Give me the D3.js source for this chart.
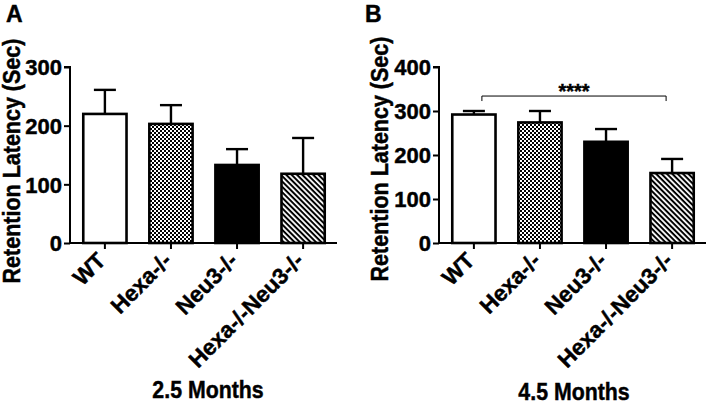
<!DOCTYPE html>
<html>
<head>
<meta charset="utf-8">
<script src="https://cdn.jsdelivr.net/npm/d3@7"></script>
<style>
  html, body { margin: 0; padding: 0; background: #fff; }
  svg { display: block; }
  text { font-family: "Liberation Sans", Arial, Helvetica, sans-serif; font-weight: bold; fill: #000; stroke: #000; stroke-width: 0.45px; }
</style>
</head>
<body>
<svg id="chart" width="709" height="406"></svg>
<script>
// ---- data ----
const categories = ["WT", "Hexa-/-", "Neu3-/-", "Hexa-/-Neu3-/-"];
const fills = ["white", "checker", "black", "hatch"];
const meanA = [220, 203, 133, 118];
const errA = [41, 32, 27, 61];
const meanB = [292, 274, 230, 159];
const errB = [8, 26, 29, 32];
const ticksA = [0, 100, 200, 300];
const ticksB = [0, 100, 200, 300, 400];
const titleA = "2.5 Months";
const titleB = "4.5 Months";
const yTitle = "Retention Latency (Sec)";
const sigB = { from: "WT", to: "Hexa-/-Neu3-/-", value: 334, label: "****" };

const svg = d3.select("#chart");
const defs = svg.append("defs");

// checker pattern
const chk = defs.append("pattern").attr("id", "checker")
  .attr("patternUnits", "userSpaceOnUse").attr("width", 4).attr("height", 4);
chk.append("rect").attr("width", 4).attr("height", 4).attr("fill", "#000");
chk.append("rect").attr("x", 0).attr("y", 0).attr("width", 2).attr("height", 2).attr("fill", "#fff");
chk.append("rect").attr("x", 2).attr("y", 2).attr("width", 2).attr("height", 2).attr("fill", "#fff");

// hatch pattern (\\ direction)
const hat = defs.append("pattern").attr("id", "hatch")
  .attr("patternUnits", "userSpaceOnUse").attr("width", 8).attr("height", 3.8)
  .attr("patternTransform", "rotate(45)");
hat.append("rect").attr("width", 8).attr("height", 3.8).attr("fill", "#fff");
hat.append("rect").attr("width", 8).attr("height", 2).attr("fill", "#000");

function fillFor(f) {
  if (f === "white") return "#fff";
  if (f === "black") return "#000";
  return "url(#" + f + ")";
}

function panel(opts) {
  const { x0, x1, yTop, yBot, ticks, means, errs, title, titleX, titleY, letter, letterX, yTitleX, yTitleY } = opts;
  const g = svg.append("g");
  const x = d3.scaleBand().domain(categories).range([x0 + 1, x1])
    .paddingInner(0.306).paddingOuter(0.166);
  const y = d3.scaleLinear().domain([0, d3.max(ticks)]).range([yBot, yTop]);

  const data = categories.map((c, i) => ({ c, m: means[i], e: errs[i], f: fills[i] }));
  const eg = g.append("g").attr("stroke", "#000").attr("stroke-width", 2.4).attr("fill", "none");
  data.forEach(d => {
    const cx = x(d.c) + x.bandwidth() / 2;
    eg.append("line").attr("x1", cx).attr("x2", cx).attr("y1", y(d.m)).attr("y2", y(d.m + d.e));
    eg.append("line").attr("x1", cx - 11).attr("x2", cx + 11).attr("y1", y(d.m + d.e)).attr("y2", y(d.m + d.e));
  });
  g.append("g").selectAll("rect").data(data).join("rect")
    .attr("x", d => x(d.c) + 1.3)
    .attr("y", d => y(d.m))
    .attr("width", x.bandwidth() - 2.6)
    .attr("height", d => y(0) - y(d.m))
    .attr("fill", d => fillFor(d.f))
    .attr("stroke", "#000").attr("stroke-width", 2.6);

  // y axis
  const ya = g.append("g").attr("transform", `translate(${x0},0)`)
    .call(d3.axisLeft(y).tickValues(ticks).tickSize(6).tickPadding(2).tickFormat(d3.format("d")));
  ya.select(".domain").attr("stroke-width", 2).attr("d", `M-6,${yTop}H0V${yBot}`);
  ya.selectAll(".tick line").attr("stroke-width", 2);
  ya.selectAll(".tick text").attr("font-size", 22).attr("font-family", "Liberation Sans, Arial, sans-serif")
    .attr("font-weight", "bold").attr("fill", "#000").attr("dy", "0.36em");

  // x axis
  const xa = g.append("g").attr("transform", `translate(0,${yBot})`)
    .call(d3.axisBottom(x).tickSize(6).tickFormat(""));
  xa.select(".domain").attr("stroke-width", 2).attr("d", `M${x0},0H${x1}`);
  xa.selectAll(".tick line").attr("stroke-width", 2);
  xa.selectAll(".tick text").remove();

  // category labels
  g.append("g").selectAll("text").data(categories).join("text")
    .attr("transform", c => `translate(${x(c) + x.bandwidth() / 2 + 2},${yBot + 19}) rotate(-45)`)
    .attr("text-anchor", "end")
    .attr("font-size", 22.5)
    .text(c => c);

  // y title
  g.append("text")
    .attr("transform", `translate(${yTitleX},${yTitleY}) rotate(-90) scale(1,1.1)`)
    .attr("text-anchor", "middle").attr("font-size", 21.5).text(yTitle);

  // bottom title
  g.append("text")
    .attr("transform", `translate(${titleX},${titleY}) scale(0.87,1)`)
    .attr("text-anchor", "middle")
    .attr("font-size", 24.5).text(title);

  // panel letter
  g.append("text").attr("x", letterX).attr("y", 22).attr("font-size", 23).text(letter);

  return { g, x, y };
}

const pA = panel({ x0: 70, x1: 337, yTop: 67, yBot: 243, ticks: ticksA, means: meanA, errs: errA,
  title: titleA, titleX: 208, titleY: 398, letter: "A", letterX: 6, yTitleX: 20, yTitleY: 161 });
const pB = panel({ x0: 439, x1: 706, yTop: 67, yBot: 243, ticks: ticksB, means: meanB, errs: errB,
  title: titleB, titleX: 574, titleY: 400, letter: "B", letterX: 365, yTitleX: 388, yTitleY: 159 });

// significance bracket in B
{
  const { g, x, y } = pB;
  const xs = x(sigB.from) + x.bandwidth() / 2 + 8;
  const xe = x(sigB.to) + x.bandwidth() / 2 - 6;
  const yy = y(sigB.value);
  g.append("path").attr("d", `M${xs},${yy + 5}V${yy}H${xe}V${yy + 5}`)
    .attr("fill", "none").attr("stroke", "#000").attr("stroke-width", 1);
  g.append("text").attr("x", (xs + xe) / 2).attr("y", yy + 2).attr("text-anchor", "middle")
    .attr("font-size", 20).text(sigB.label);
}
</script>
</body>
</html>
